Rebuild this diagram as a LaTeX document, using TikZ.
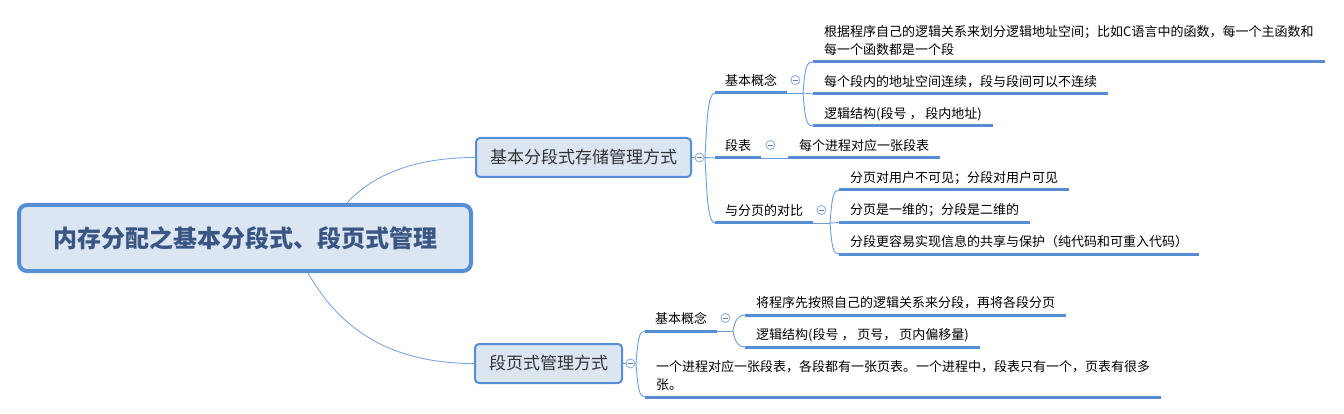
\documentclass[tikz,border=0pt]{standalone}
\usepackage{fontspec}
\setmainfont{Noto Sans CJK SC}
\usetikzlibrary{positioning}
\definecolor{boxfill}{HTML}{DCE6F2}
\definecolor{boxline}{HTML}{558ED5}
\definecolor{linkc}{HTML}{6D9CDC}
\definecolor{rootlink}{HTML}{7EA6DE}
\definecolor{rootc}{HTML}{3A5683}
\definecolor{topict}{HTML}{333333}
\definecolor{foldc}{HTML}{8FB1E0}

\begin{document}
\begin{tikzpicture}[
    x=1pt,y=-1pt,
    font=\fontsize{13}{17.5}\selectfont,
    root/.style={draw=boxline,line width=4pt,rounded corners=8pt,fill=boxfill,minimum width=452pt,minimum height=66pt,text=rootc,font=\fontsize{24}{28}\selectfont\bfseries},
    topic/.style={draw=boxline,line width=2pt,rounded corners=4pt,fill=boxfill,minimum height=39pt,text=topict,font=\fontsize{17}{20}\selectfont},
    sub/.style={anchor=south west,inner xsep=10pt,inner ysep=0pt,execute at end node={\rule[-7.5pt]{0pt}{7.5pt}}},
    leaf/.style={sub,inner xsep=11pt,align=left},
    uline/.style={draw=boxline,line width=3pt},
    link/.style={draw=linkc,line width=0.9pt},
    fold/.style={circle,draw=foldc,fill=white,line width=0.9pt,minimum size=9pt,inner sep=0pt,
      path picture={\draw[foldc!70!black,line width=0.8pt] ([xshift=-2.5pt]path picture bounding box.center) -- ([xshift=2.5pt]path picture bounding box.center);}}
  ]
    \useasboundingbox (0,0) rectangle (1344,414);
    \node[root] (root) at (245,238) {内存分配之基本分段式、段页式管理};
    \node[topic,minimum width=215pt] (seg) at (583.5,157.5) {基本分段式存储管理方式};
    \node[topic,minimum width=147pt] (segpg) at (548.5,363.5) {段页式管理方式};
    \draw[link,draw=rootlink] ([xshift=102pt]root.north) .. controls +(28,-31) and +(-55,0) .. (seg.west);
    \draw[link,draw=rootlink] ([xshift=63pt]root.south) .. controls +(27,47) and +(-94,0) .. (segpg.west);

    \coordinate (segh) at (705,157.5);
    \coordinate (segpgh) at (636,363.5);
    \coordinate (conch) at (803,93);
    \coordinate (cmph) at (830,223);
    \coordinate (conc2h) at (733,331);

    \node[sub] (conc) at (715,93) {基本概念};
    \node[sub] (tab) at (715,158) {段表};
    \node[sub] (cmp) at (715,223) {与分页的对比};
    \node[sub] (conc2) at (645,331) {基本概念};

    \node[leaf] (c1) at (813,62) {根据程序自己的逻辑关系来划分逻辑地址空间；比如C语言中的函数，每一个主函数和\\每一个函数都是一个段};
    \node[leaf] (c2) at (813,94) {每个段内的地址空间连续，段与段间可以不连续};
    \node[leaf] (c3) at (813,126) {逻辑结构(段号 ， 段内地址)};
    \node[leaf] (t1) at (788,158) {每个进程对应一张段表};
    \node[leaf] (p1) at (839,190) {分页对用户不可见；分段对用户可见};
    \node[leaf] (p2) at (839,222.5) {分页是一维的；分段是二维的};
    \node[leaf] (p3) at (839,254) {分段更容易实现信息的共享与保护（纯代码和可重入代码）};
    \node[leaf] (s1) at (745,315) {将程序先按照自己的逻辑关系来分段，再将各段分页};
    \node[leaf] (s2) at (745,347) {逻辑结构(段号 ， 页号， 页内偏移量)};
    \node[leaf] (s3) at (645,397) {一个进程对应一张段表，各段都有一张页表。一个进程中，段表只有一个，页表有很多\\张。};

    \foreach \n in {conc,tab,cmp,conc2,c1,c2,c3,t1,p1,p2,p3,s1,s2,s3}
      \draw[uline] (\n.south west) -- (\n.south east);

    \draw[link] (seg.east) -- (segh);
    \draw[link] (segh) .. controls +(2,-40) and +(-7,0) .. (conc.south west);
    \draw[link] (segh) -- (tab.south west);
    \draw[link] (segh) .. controls +(2,40) and +(-7,0) .. (cmp.south west);
    \draw[link] (conc.south east) -- (conch);
    \draw[link] (conch) .. controls +(2,-25) and +(-7,0) .. (c1.south west);
    \draw[link] (conch) -- (c2.south west);
    \draw[link] (conch) .. controls +(2,25) and +(-7,0) .. (c3.south west);
    \draw[link] (tab.south east) -- (t1.south west);
    \draw[link] (cmp.south east) -- (cmph);
    \draw[link] (cmph) .. controls +(2,-25) and +(-6,0) .. (p1.south west);
    \draw[link] (cmph) -- (p2.south west);
    \draw[link] (cmph) .. controls +(2,25) and +(-6,0) .. (p3.south west);
    \draw[link] (segpg.east) -- (segpgh);
    \draw[link] (segpgh) .. controls +(2,-25) and +(-6,0) .. (conc2.south west);
    \draw[link] (segpgh) .. controls +(2,25) and +(-6,0) .. (s3.south west);
    \draw[link] (conc2.south east) -- (conc2h);
    \draw[link] (conc2h) .. controls +(2,-12) and +(-6,0) .. (s1.south west);
    \draw[link] (conc2h) .. controls +(2,12) and +(-6,0) .. (s2.south west);

    \node[fold,right=2.5pt of seg] (segf) {};
    \node[fold,right=2.5pt of segpg] (segpgf) {};
    \node[fold] (concf) at ([shift={(8,-13)}]conc.south east) {};
    \node[fold] (tabf) at ([shift={(9,-13)}]tab.south east) {};
    \node[fold] (cmpf) at ([shift={(8,-13)}]cmp.south east) {};
    \node[fold] (conc2f) at ([shift={(8,-13)}]conc2.south east) {};
  \end{tikzpicture}
\end{document}
